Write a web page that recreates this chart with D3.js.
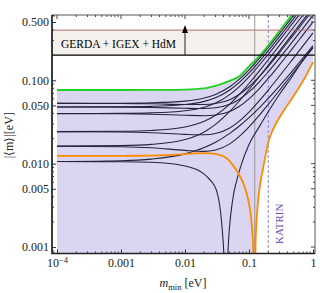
<!DOCTYPE html>
<html>
<head>
<meta charset="utf-8">
<script src="https://cdn.jsdelivr.net/npm/d3@7"></script>
<style>
  body { margin: 0; background: #fff; }
  svg { display: block; }
  text { font-family: "Liberation Serif", "Times New Roman", serif; }
</style>
</head>
<body>
<div id="chart"></div>
<script>
// m_min grid shared by the green bound and the black phase curves
const mGrid = [0.0001, 0.001, 0.003, 0.01, 0.02, 0.03, 0.05, 0.07, 0.1, 0.15, 0.2, 0.3, 0.45, 0.65, 1.0];

// upper bound (green)
const greenVals = [0.0765, 0.0765, 0.0766, 0.0775, 0.0798, 0.0859, 0.0985, 0.111, 0.147, 0.2, 0.262, 0.39, 0.585, 0.84, 1.28];

// black curves
const b1Up = [0.05293, 0.05316, 0.05373, 0.05624, 0.06121, 0.06759, 0.08359, 0.10247, 0.13373, 0.18951, 0.24723, 0.36487, 0.54327, 0.78226, 1.20147];
const b1Dn = [0.05288, 0.05266, 0.05223, 0.05124, 0.05121, 0.05259, 0.05859, 0.06747, 0.08373, 0.11451, 0.14723, 0.21487, 0.31827, 0.45726, 0.70147];
const b2Up = [0.04793, 0.04816, 0.04872, 0.05115, 0.05583, 0.06176, 0.07653, 0.09388, 0.12257, 0.1737, 0.22662, 0.33446, 0.498, 0.71708, 1.10135];
const b2Dn = [0.04788, 0.04766, 0.04722, 0.04615, 0.04583, 0.04676, 0.05153, 0.05888, 0.07257, 0.0987, 0.12662, 0.18446, 0.273, 0.39208, 0.60135];
const b3Up = [0.03993, 0.04016, 0.04071, 0.0431, 0.04763, 0.0533, 0.06725, 0.08344, 0.10995, 0.15687, 0.20522, 0.30351, 0.45236, 0.65163, 1.00106];
const b3Dn = [0.03988, 0.03966, 0.03921, 0.0381, 0.03763, 0.0383, 0.04225, 0.04844, 0.05995, 0.08187, 0.10522, 0.15351, 0.22736, 0.32663, 0.50106];
const b4Up = [0.02423, 0.02446, 0.02502, 0.02748, 0.03219, 0.03802, 0.05183, 0.06719, 0.09156, 0.1336, 0.17634, 0.26257, 0.39255, 0.56623, 0.87047];
const b4Dn = [0.02418, 0.02396, 0.02352, 0.02248, 0.02219, 0.02302, 0.02683, 0.03219, 0.04156, 0.0586, 0.07634, 0.11257, 0.16755, 0.24123, 0.37047];
const b5Up = [0.01623, 0.01646, 0.01702, 0.01945, 0.02404, 0.02958, 0.04229, 0.05607, 0.07756, 0.11423, 0.1513, 0.22587, 0.33808, 0.4879, 0.75026];
const b5Dn = [0.01618, 0.01596, 0.01552, 0.01445, 0.01404, 0.01458, 0.01729, 0.02107, 0.02756, 0.03923, 0.0513, 0.07587, 0.11308, 0.1629, 0.25026];
const b6Up = [0.01063, 0.01085, 0.01135, 0.0131, 0.0156, 0.0181, 0.0231, 0.0281, 0.0356, 0.0481, 0.0606, 0.0856, 0.1231, 0.1731, 0.2606];

// black curve that cancels near m_min ~ 0.04
const vM = [0.0001, 0.001, 0.003, 0.01, 0.019, 0.025, 0.031, 0.0375, 0.0415, 0.0425, 0.047, 0.055, 0.065, 0.08, 0.1, 0.15, 0.2, 0.3, 0.45, 0.65, 1.0];
const vVals = [0.0106, 0.01055, 0.0104, 0.0094, 0.0077, 0.0063, 0.0048, 0.0019, 0.0005, 0.0001, 0.0009, 0.0035, 0.0065, 0.011, 0.017, 0.029, 0.042, 0.068, 0.105, 0.16, 0.245];

// orange curve (lower bound on the right)
const orangeM = [0.0001, 0.001, 0.003, 0.01, 0.017, 0.025, 0.035, 0.045, 0.056, 0.07, 0.08, 0.092, 0.103, 0.11, 0.116, 0.1215, 0.127, 0.135, 0.15, 0.167, 0.2, 0.24, 0.29, 0.39, 0.55, 0.8, 1.0];
const orangeVals = [0.0124, 0.01242, 0.0125, 0.013, 0.0134, 0.0133, 0.0127, 0.0116, 0.0096, 0.0074, 0.006, 0.0044, 0.0029, 0.0019, 0.001, 0.0001, 0.0012, 0.0028, 0.0058, 0.009, 0.018, 0.0262, 0.0345, 0.049, 0.073, 0.118, 0.165];

// GERDA + IGEX + HdM band, arrow, vertical markers
const bandLow = 0.2, bandHigh = 0.4;
const arrowM = 0.01, arrowTop = 0.46;
const grayLineM = 0.123;
const katrinM = 0.2;

// ticks
const xTicks = [0.0001, 0.001, 0.01, 0.1, 1];
const xTickLabels = ["10^-4", "0.001", "0.01", "0.1", "1"];
const yTicks = [0.5, 0.1, 0.05, 0.01, 0.005, 0.001];
const yTickLabels = ["0.500", "0.100", "0.050", "0.010", "0.005", "0.001"];

const width = 320, height = 293;

const x = d3.scaleLog().domain([8.35e-5, 1.075]).range([52, 315]);
const y = d3.scaleLog().domain([0.000837, 0.607]).range([253.5, 15]);
const [x0, x1] = x.range();
const [yB, yT] = y.range();

const svg = d3.select("#chart")
    .append("svg")
    .attr("width", width)
    .attr("height", height);

svg.append("defs").append("clipPath").attr("id", "clip")
    .append("rect")
    .attr("x", x0).attr("y", yT)
    .attr("width", x1 - x0).attr("height", yB - yT);

const plot = svg.append("g").attr("clip-path", "url(#clip)");

// band
plot.append("rect")
    .attr("x", x0).attr("width", x1 - x0)
    .attr("y", y(bandHigh)).attr("height", y(bandLow) - y(bandHigh))
    .attr("fill", "#f4f1ec");

const line = d3.line()
    .x(d => x(d[0]))
    .y(d => y(d[1]))
    .curve(d3.curveMonotoneX);

// allowed region
const greenPts = mGrid.map((m, i) => [m, greenVals[i]]);
const iDip = orangeVals.indexOf(d3.min(orangeVals));
const orangeRight = orangeM.slice(iDip).map((m, i) => [m, orangeVals[iDip + i]]).reverse();
const fillPath = line(greenPts)
    + line(orangeRight).replace(/^M/, "L")
    + `L${x(orangeM[iDip])},${yB}L${x(mGrid[0])},${yB}Z`;
plot.append("path")
    .attr("d", fillPath)
    .attr("fill", "#dad6f2");

// vertical markers
plot.append("line")
    .attr("x1", x(grayLineM)).attr("x2", x(grayLineM))
    .attr("y1", yT).attr("y2", yB)
    .attr("stroke", "#9a9a9a").attr("stroke-width", 1);
plot.append("line")
    .attr("x1", x(katrinM)).attr("x2", x(katrinM))
    .attr("y1", yT).attr("y2", yB)
    .attr("stroke", "#8f86c8").attr("stroke-width", 1)
    .attr("stroke-dasharray", "3,2");

// black curves
const blacks = [b1Up, b1Dn, b2Up, b2Dn, b3Up, b3Dn, b4Up, b4Dn, b5Up, b5Dn, b6Up];
blacks.forEach(vals => {
    plot.append("path")
        .attr("d", line(mGrid.map((m, i) => [m, vals[i]])))
        .attr("fill", "none")
        .attr("stroke", "#24243e")
        .attr("stroke-width", 1.1);
});
plot.append("path")
    .attr("d", line(vM.map((m, i) => [m, vVals[i]])))
    .attr("fill", "none")
    .attr("stroke", "#24243e")
    .attr("stroke-width", 1.1);

// orange and green
plot.append("path")
    .attr("d", line(orangeM.map((m, i) => [m, orangeVals[i]])))
    .attr("fill", "none")
    .attr("stroke", "#ff8a00")
    .attr("stroke-width", 1.8);
plot.append("path")
    .attr("d", line(greenPts))
    .attr("fill", "none")
    .attr("stroke", "#1ed21e")
    .attr("stroke-width", 1.8);

// band edges
plot.append("line")
    .attr("x1", x0).attr("x2", x1)
    .attr("y1", y(bandHigh)).attr("y2", y(bandHigh))
    .attr("stroke", "#b07070").attr("stroke-width", 1);
plot.append("line")
    .attr("x1", x0).attr("x2", x1)
    .attr("y1", y(bandLow)).attr("y2", y(bandLow))
    .attr("stroke", "#000").attr("stroke-width", 1.3);

// arrow
plot.append("line")
    .attr("x1", x(arrowM)).attr("x2", x(arrowM))
    .attr("y1", y(bandLow)).attr("y2", y(arrowTop) + 6)
    .attr("stroke", "#222").attr("stroke-width", 1);
const ax = x(arrowM), ay = y(arrowTop);
plot.append("path")
    .attr("d", `M${ax},${ay}L${ax - 3},${ay + 8}L${ax + 3},${ay + 8}Z`)
    .attr("fill", "#000");

svg.append("text")
    .attr("x", x(0.000115)).attr("y", 48)
    .attr("font-size", 11.5)
    .text("GERDA + IGEX + HdM");

svg.append("text")
    .attr("transform", `translate(${x(katrinM) + 15},${y(0.0019)}) rotate(-90)`)
    .attr("text-anchor", "middle")
    .attr("font-size", 11)
    .attr("fill", "#6a4cbc")
    .text("KATRIN");

// minor tick positions
const minorX = [], minorY = [];
for (let e = -5; e <= 0; e++) for (let k = 2; k <= 9; k++) {
    const v = k * Math.pow(10, e);
    if (v > x.domain()[0] && v < x.domain()[1]) minorX.push(v);
    if (v > y.domain()[0] && v < y.domain()[1] && k !== 5) minorY.push(v);
}

// axes
const xAxis = svg.append("g")
    .attr("transform", `translate(0,${yB})`)
    .call(d3.axisBottom(x).tickValues(xTicks).tickSizeInner(-4).tickSizeOuter(0).tickPadding(5)
        .tickFormat((d, i) => xTickLabels[i]));
const yAxis = svg.append("g")
    .attr("transform", `translate(${x0},0)`)
    .call(d3.axisLeft(y).tickValues(yTicks).tickSizeInner(-4).tickSizeOuter(0).tickPadding(3)
        .tickFormat((d, i) => yTickLabels[i]));
[xAxis, yAxis].forEach(g => {
    g.select(".domain").remove();
    g.selectAll("text").attr("font-family", "Liberation Serif").attr("font-size", 12).attr("fill", "#222");
    g.selectAll("line").attr("stroke", "#333");
});

// superscript on the first x label
xAxis.selectAll(".tick text").filter((d, i) => i === 0).each(function () {
    const t = d3.select(this);
    const parts = xTickLabels[0].split("^");
    t.text(null);
    t.append("tspan").text(parts[0]);
    t.append("tspan").attr("dy", "-0.45em").attr("font-size", 8.5).text(parts[1].replace("-", "\u2212"));
});

// mirrored ticks on top/right and minor ticks
const tk = svg.append("g").attr("stroke", "#444").attr("stroke-width", 1);
xTicks.forEach(v => {
    tk.append("line").attr("x1", x(v)).attr("x2", x(v)).attr("y1", yT).attr("y2", yT + 4);
});
yTicks.forEach(v => {
    tk.append("line").attr("x1", x1).attr("x2", x1 - 4).attr("y1", y(v)).attr("y2", y(v));
});
minorX.forEach(v => {
    tk.append("line").attr("x1", x(v)).attr("x2", x(v)).attr("y1", yB).attr("y2", yB - 2);
    tk.append("line").attr("x1", x(v)).attr("x2", x(v)).attr("y1", yT).attr("y2", yT + 2);
});
minorY.forEach(v => {
    tk.append("line").attr("x1", x0).attr("x2", x0 + 2).attr("y1", y(v)).attr("y2", y(v));
    tk.append("line").attr("x1", x1).attr("x2", x1 - 2).attr("y1", y(v)).attr("y2", y(v));
});

// frame
svg.append("rect")
    .attr("x", x0).attr("y", yT)
    .attr("width", x1 - x0).attr("height", yB - yT)
    .attr("fill", "none").attr("stroke", "#555").attr("stroke-width", 1);
svg.append("path")
    .attr("d", `M${x0},${yT}V${yB}H${x1}`)
    .attr("fill", "none").attr("stroke", "#222").attr("stroke-width", 1.6);

// axis titles
svg.append("text")
    .attr("transform", `translate(13,${(yT + yB) / 2 + 1}) rotate(-90)`)
    .attr("text-anchor", "middle")
    .attr("font-size", 12)
    .attr("fill", "#222")
    .text("|\u27E8m\u27E9|[eV]");

const xt = svg.append("text")
    .attr("x", 183).attr("y", 287)
    .attr("text-anchor", "middle")
    .attr("font-size", 12)
    .attr("fill", "#222");
xt.append("tspan").attr("font-style", "italic").text("m");
xt.append("tspan").attr("dy", 3).attr("font-size", 8.5).text("min");
xt.append("tspan").attr("dy", -3).text(" [eV]");
</script>
</body>
</html>
